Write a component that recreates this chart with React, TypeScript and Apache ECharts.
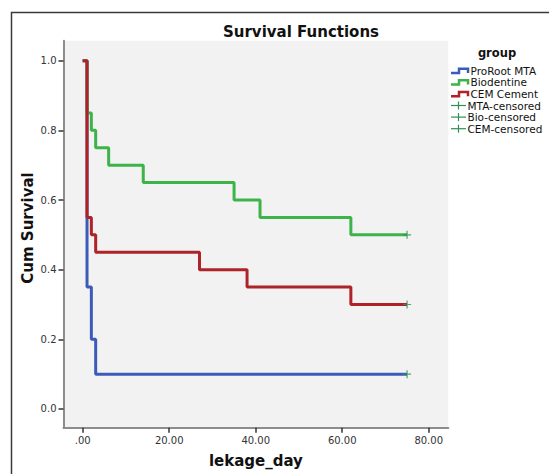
import React, { useEffect, useRef } from "react";
import * as echarts from "echarts";

// ---- data ----
const xTickValues = [0, 20, 40, 60, 80];
const yTickValues = [0, 0.2, 0.4, 0.6, 0.8, 1.0];

const groupNames = ["ProRoot MTA", "Biodentine", "CEM Cement"];
const censorNames = ["MTA-censored", "Bio-censored", "CEM-censored"];

const mtaTime = [0, 1, 2, 3, 75];
const mtaSurv = [1.0, 0.35, 0.2, 0.1, 0.1];
const bioTime = [0, 1, 2, 3, 6, 14, 35, 41, 62, 75];
const bioSurv = [1.0, 0.85, 0.8, 0.75, 0.7, 0.65, 0.6, 0.55, 0.5, 0.5];
const cemTime = [0, 1, 2, 3, 27, 38, 62, 75];
const cemSurv = [1.0, 0.55, 0.5, 0.45, 0.4, 0.35, 0.3, 0.3];

const mtaCensorTime = [75];
const mtaCensorSurv = [0.1];
const bioCensorTime = [75];
const bioCensorSurv = [0.5];
const cemCensorTime = [75];
const cemCensorSurv = [0.3];

// ---- styles ----
const FONT = "DejaVu Sans";
const BLUE = "#3c5bb8";
const GREEN = "#3cb44a";
const RED = "#ad2328";
const CENSOR = "#2e8f55";
const PLUS = "path://M4.25,0h1.5v10h-1.5z M0,4.25h10v1.5h-10z";

const zip = (t: number[], s: number[]) => t.map((v, i) => [v, s[i]]);

export default function App() {
  const ref = useRef<HTMLDivElement>(null);

  useEffect(() => {
    if (!ref.current) return;
    const chart = echarts.init(ref.current, undefined, { renderer: "svg" });

    const lineColors = [BLUE, GREEN, RED];
    const lineData = [zip(mtaTime, mtaSurv), zip(bioTime, bioSurv), zip(cemTime, cemSurv)];
    const censorData = [
      zip(mtaCensorTime, mtaCensorSurv),
      zip(bioCensorTime, bioCensorSurv),
      zip(cemCensorTime, cemCensorSurv),
    ];

    const legendTop = 70.7;
    const legendStep = 11.6;
    const legendEls: any[] = [];
    legendEls.push({
      type: "text",
      x: 497,
      y: 52.5,
      style: {
        text: "group",
        font: `bold 11.5px "${FONT}"`,
        fill: "#111",
        align: "center",
        verticalAlign: "middle",
      },
    });
    groupNames.forEach((n, i) => {
      const y = legendTop + i * legendStep;
      legendEls.push({
        type: "polyline",
        shape: {
          points: [
            [451, y + 2.3],
            [459, y + 2.3],
            [459, y - 2],
            [468, y - 2],
            [468, y + 2.3],
          ],
        },
        style: { stroke: lineColors[i], lineWidth: 2.5, fill: "none" },
      });
      legendEls.push({
        type: "text",
        x: 470.5,
        y,
        style: {
          text: n,
          font: `10.5px "${FONT}"`,
          fill: "#111",
          align: "left",
          verticalAlign: "middle",
        },
      });
    });
    censorNames.forEach((n, i) => {
      const y = legendTop + (i + 3) * legendStep;
      legendEls.push({
        type: "line",
        shape: { x1: 451, y1: y, x2: 466, y2: y },
        style: { stroke: CENSOR, lineWidth: 1.2 },
      });
      legendEls.push({
        type: "line",
        shape: { x1: 458.5, y1: y - 4, x2: 458.5, y2: y + 4 },
        style: { stroke: CENSOR, lineWidth: 1.2 },
      });
      legendEls.push({
        type: "text",
        x: 467.5,
        y,
        style: {
          text: n,
          font: `10.5px "${FONT}"`,
          fill: "#111",
          align: "left",
          verticalAlign: "middle",
        },
      });
    });

    const option: any = {
      animation: false,
      backgroundColor: "#ffffff",
      textStyle: { fontFamily: FONT },
      title: {
        text: "Survival Functions",
        left: 296,
        top: 19,
        textAlign: "center",
        textStyle: { fontFamily: FONT, fontSize: 15, fontWeight: "bold", color: "#111" },
      },
      grid: {
        left: 63.5,
        top: 40.7,
        width: 384.8,
        height: 387,
        show: true,
        backgroundColor: "#f2f2f2",
        borderWidth: 0,
        containLabel: false,
      },
      xAxis: {
        type: "value",
        min: -4.44,
        max: 84.53,
        name: "lekage_day",
        nameLocation: "middle",
        nameGap: 26,
        nameTextStyle: { fontFamily: FONT, fontSize: 15, fontWeight: "bold", color: "#111" },
        axisLine: { onZero: false, lineStyle: { color: "#8c8c8c", width: 2 } },
        axisTick: {
          show: true,
          inside: false,
          length: 5,
          customValues: xTickValues,
          lineStyle: { color: "#333", width: 1.5 },
        },
        axisLabel: {
          customValues: xTickValues,
          margin: 8,
          fontFamily: FONT,
          fontSize: 10,
          color: "#333",
          formatter: (v: number) => (v === 0 ? ".00" : v.toFixed(2)),
        },
        splitLine: { show: false },
      },
      yAxis: {
        type: "value",
        min: -0.0537,
        max: 1.0574,
        axisLine: { show: true, onZero: false, lineStyle: { color: "#8c8c8c", width: 2 } },
        axisTick: {
          show: true,
          inside: false,
          length: 5,
          customValues: yTickValues,
          lineStyle: { color: "#333", width: 1.5 },
        },
        axisLabel: {
          customValues: yTickValues,
          margin: 7,
          fontFamily: FONT,
          fontSize: 10,
          color: "#333",
          formatter: (v: number) => v.toFixed(1),
        },
        splitLine: { show: false },
      },
      series: [
        ...groupNames.map((n, i) => ({
          name: n,
          type: "line",
          step: "end",
          data: lineData[i],
          symbol: "none",
          lineStyle: { color: lineColors[i], width: 3 },
          itemStyle: { color: lineColors[i] },
          z: 2 + i,
        })),
        ...censorNames.map((n, i) => ({
          name: n,
          type: "scatter",
          data: censorData[i],
          symbol: PLUS,
          symbolSize: 8,
          itemStyle: { color: CENSOR },
          z: 10,
        })),
      ],
      graphic: [
        {
          type: "rect",
          shape: { x: 11.5, y: 12.5, width: 700, height: 600 },
          style: { fill: "none", stroke: "#3a3a3a", lineWidth: 1.5 },
          z: 100,
          silent: true,
        },
        {
          type: "text",
          x: 28,
          y: 228,
          rotation: Math.PI / 2,
          style: {
            text: "Cum Survival",
            font: `bold 15px "${FONT}"`,
            fill: "#111",
            align: "center",
            verticalAlign: "middle",
          },
        },
        ...legendEls,
      ],
    };

    chart.setOption(option);
    return () => chart.dispose();
  }, []);

  return (
    <div
      ref={ref}
      style={{ position: "fixed", left: 0, top: 0, width: 549, height: 474 }}
    />
  );
}
